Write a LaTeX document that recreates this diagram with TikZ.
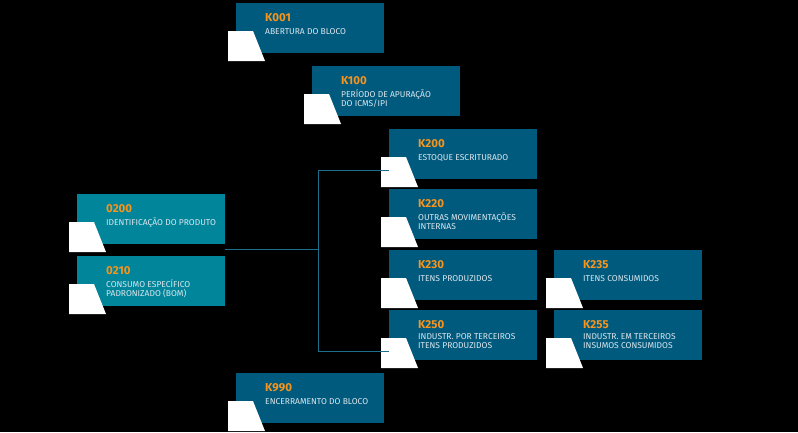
\documentclass[tikz,border=0pt]{standalone}
\usepackage{fontspec}
\setmainfont{Fira Sans}
\usetikzlibrary{positioning}
\definecolor{blockblue}{HTML}{005A7E}
\definecolor{blockteal}{HTML}{00859A}
\definecolor{codeorange}{HTML}{F7941D}
\definecolor{desctext}{HTML}{DCE6EC}
\definecolor{linkblue}{HTML}{1B6F8C}
\begin{document}
\begin{tikzpicture}[x=1pt, y=-1pt,
    block/.style={anchor=north west, minimum width=148pt, minimum height=50pt, inner sep=0pt},
    code/.style={anchor=west, inner sep=0pt, text=codeorange, font=\bfseries\fontsize{11.5}{13}\selectfont},
    desc/.style={anchor=north west, inner sep=0pt, align=left, text=desctext,
        font=\fontsize{8.5}{9}\selectfont, execute at begin node=\rule{0pt}{8pt}},
    link/.style={linkblue, line width=0.8pt}]
    % Background
    \fill[black] (0,0) rectangle (798,432);
    % Blocks
    \foreach \n/\x/\y/\c/\code/\txt in {
            k001/236/3/blockblue/K001/{ABERTURA DO BLOCO},
            k100/312/66/blockblue/K100/{PERÍODO DE APURAÇÃO\\DO ICMS/IPI},
            k200/389/129/blockblue/K200/{ESTOQUE ESCRITURADO},
            k220/389/189/blockblue/K220/{OUTRAS MOVIMENTAÇÕES\\INTERNAS},
            k230/389/250/blockblue/K230/{ITENS PRODUZIDOS},
            k235/554/250/blockblue/K235/{ITENS CONSUMIDOS},
            k250/389/310/blockblue/K250/{INDUSTR. POR TERCEIROS\\ITENS PRODUZIDOS},
            k255/554/310/blockblue/K255/{INDUSTR. EM TERCEIROS\\INSUMOS CONSUMIDOS},
            p0200/77/194/blockteal/0200/{IDENTIFICAÇÃO DO PRODUTO},
            p0210/77/256/blockteal/0210/{CONSUMO ESPECÍFICO\\PADRONIZADO (BOM)},
            k990/236/373/blockblue/K990/{ENCERRAMENTO DO BLOCO}} {
            \node[block, fill=\c] (\n) at (\x,\y) {};
            \fill[white] ([shift={(-8,28)}]\n.north west) -- ([shift={(17,28)}]\n.north west)
                -- ([shift={(29,58)}]\n.north west) -- ([shift={(-8,58)}]\n.north west) -- cycle;
            \coordinate (\n tab) at ([shift={(0,41)}]\n.north west);
            \node[code] (\n code) at ([shift={(29,14.5)}]\n.north west) {\code};
            \node[desc] (\n desc) at ([shift={(29,23.5)}]\n.north west) {\txt};
        }
    % Connectors
    \coordinate (src) at ([shift={(0,4.5)}]p0200.south east);
    \coordinate (bus) at ([xshift=93pt]src);
    \draw[link] (src) -- (bus);
    \draw[link] (bus |- k200tab) -- (bus |- k250tab);
    \draw[link] (bus |- k200tab) -- (k200tab);
    \draw[link] (bus |- k250tab) -- (k250tab);
\end{tikzpicture}
\end{document}
